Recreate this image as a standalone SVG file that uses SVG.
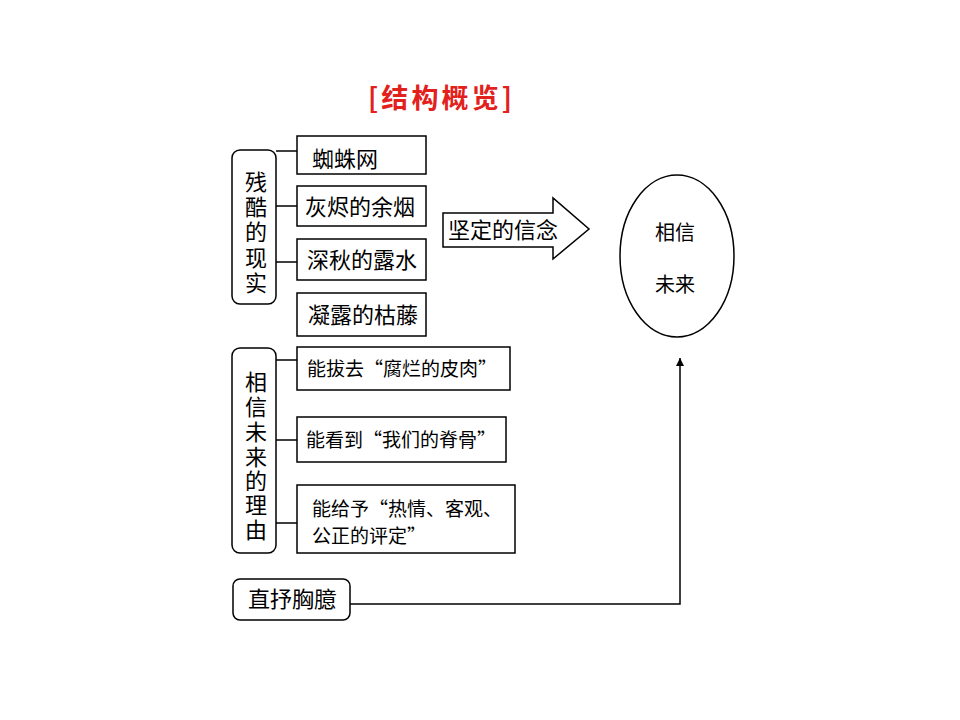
<svg xmlns="http://www.w3.org/2000/svg" width="960" height="720" viewBox="0 0 960 720">
<defs>
<style>
.t{font-family:"Liberation Serif","Noto Sans CJK SC",serif;font-size:22px;fill:#000}
.s{font-size:20px}
.q{font-family:"Noto Sans CJK SC",sans-serif;font-size:19px;fill:#000}
.box{fill:#fff;stroke:#000;stroke-width:1.5}
.ln{fill:none;stroke:#000;stroke-width:1.5}
.title{font-family:"Noto Sans CJK SC",sans-serif;font-size:27px;font-weight:bold;fill:#e3211c}
</style>
<marker id="ah" markerWidth="8" markerHeight="10" refX="8" refY="5" orient="auto" markerUnits="userSpaceOnUse">
<path d="M0,1 L8,5 L0,9 Z" fill="#000"/>
</marker>
</defs>
<rect width="960" height="720" fill="#fff"/>
<text class="title" x="368" y="108" textLength="144" lengthAdjust="spacing">[结构概览]</text>

<g id="connectors">
<line class="ln" x1="276" y1="151" x2="297" y2="151"/>
<line class="ln" x1="276" y1="206" x2="297" y2="206"/>
<line class="ln" x1="276" y1="262" x2="297" y2="262"/>
<line class="ln" x1="276" y1="360" x2="297" y2="360"/>
<line class="ln" x1="276" y1="440" x2="297" y2="440"/>
<line class="ln" x1="276" y1="523" x2="297" y2="523"/>
<path class="ln" d="M350,604 H680 V358" marker-end="url(#ah)"/>
</g>

<g id="group-reality">
<rect class="box" x="232" y="150" width="44" height="154" rx="8"/>
<text class="t" x="256" text-anchor="middle"><tspan x="256" y="190">残</tspan><tspan x="256" y="215">酷</tspan><tspan x="256" y="240">的</tspan><tspan x="256" y="266">现</tspan><tspan x="256" y="291">实</tspan></text>
</g>
<g id="n-web"><rect class="box" x="297" y="136" width="129" height="38"/><text class="t" x="312" y="167">蜘蛛网</text></g>
<g id="n-smoke"><rect class="box" x="297" y="186" width="129" height="40"/><text class="t" x="305" y="215">灰烬的余烟</text></g>
<g id="n-dew"><rect class="box" x="297" y="239" width="129" height="41"/><text class="t" x="307" y="268">深秋的露水</text></g>
<g id="n-vine"><rect class="box" x="297" y="293" width="129" height="43"/><text class="t" x="308" y="323">凝露的枯藤</text></g>

<g id="group-reason">
<rect class="box" x="232" y="348" width="44" height="205" rx="8"/>
<text class="t" x="256" text-anchor="middle"><tspan x="256" y="390">相</tspan><tspan x="256" y="415">信</tspan><tspan x="256" y="440">未</tspan><tspan x="256" y="465">来</tspan><tspan x="256" y="489">的</tspan><tspan x="256" y="513">理</tspan><tspan x="256" y="538">由</tspan></text>
</g>
<g id="n-flesh"><rect class="box" x="297" y="347" width="213" height="43"/><text class="q" x="307" y="376">能拔去“腐烂的皮肉”</text></g>
<g id="n-spine"><rect class="box" x="297" y="417" width="209" height="45"/><text class="q" x="306" y="447">能看到“我们的脊骨”</text></g>
<g id="n-judge"><rect class="box" x="297" y="485" width="218" height="68"/><text class="q"><tspan x="312" y="516">能给予“热情、客观、</tspan><tspan x="312" y="543">公正的评定”</tspan></text></g>

<g id="n-direct"><rect class="box" x="233" y="579" width="117" height="41" rx="7"/><text class="t" x="248" y="607">直抒胸臆</text></g>

<g id="n-belief">
<path class="box" d="M443,213 L553,213 L553,198 L589,229 L553,259 L553,247 L443,247 Z"/>
<text class="t" x="448" y="238">坚定的信念</text>
</g>

<g id="n-future">
<ellipse class="box" cx="677" cy="256" rx="57" ry="81"/>
<text class="t s" x="675" y="240" text-anchor="middle">相信</text>
<text class="t s" x="675" y="292" text-anchor="middle">未来</text>
</g>
</svg>
